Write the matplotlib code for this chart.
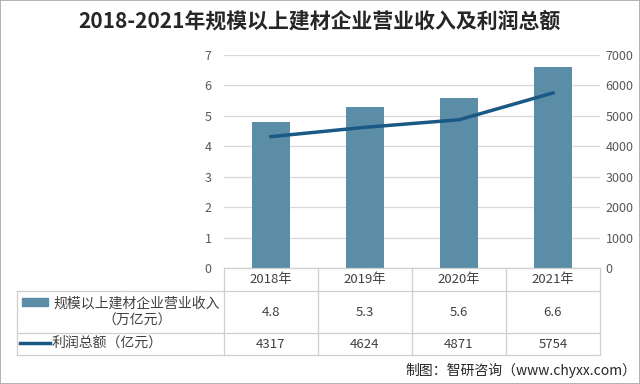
import matplotlib
matplotlib.use('Agg')
import matplotlib.pyplot as plt
import matplotlib.transforms as mtransforms
from matplotlib.lines import Line2D
from matplotlib.patches import Rectangle

plt.rcParams['font.family'] = ['Noto Sans CJK SC', 'DejaVu Sans']

# 数据
years = ['2018年', '2019年', '2020年', '2021年']
revenue = [4.8, 5.3, 5.6, 6.6]          # 万亿元
profit = [4317, 4624, 4871, 5754]       # 亿元
revenue_label = '规模以上建材企业营业收入\n（万亿元）'
profit_label = '利润总额（亿元）'
title = '2018-2021年规模以上建材企业营业收入及利润总额'
source = '制图：智研咨询（www.chyxx.com）'

bar_color = '#5B8DA7'
line_color = '#1A5886'
grid_color = '#D9D9D9'
text_color = '#404040'
tick_color = '#595959'

W, H = 640, 384
fig = plt.figure(figsize=(W / 100, H / 100), dpi=100)


def fy(y):
    # pixel (desde arriba) -> fracción de figura
    return 1 - y / H


def fx(x):
    return x / W


ax = fig.add_axes([fx(224), fy(268), fx(600) - fx(224), fy(55) - fy(268)])
x = range(len(years))
ax.bar(x, revenue, width=0.4, color=bar_color, zorder=3)
ax.set_xlim(-0.5, len(years) - 0.5)
ax.set_ylim(0, 7)
ax.set_yticks(range(0, 8))
ax.set_xticks([])
ax.yaxis.grid(True, color=grid_color, linewidth=0.9)
ax.set_axisbelow(True)
for s in ax.spines.values():
    s.set_visible(False)
ax.tick_params(axis='y', length=0, pad=9, labelsize=9, labelcolor=tick_color)

ax2 = ax.twinx()
ax2.plot(x, profit, color=line_color, linewidth=2.5, zorder=4)
ax2.set_ylim(0, 7000)
ax2.set_yticks(range(0, 7001, 1000))
for s in ax2.spines.values():
    s.set_visible(False)
ax2.tick_params(axis='y', length=0, pad=4, labelsize=9, labelcolor=tick_color)

# título
fig.text(fx(319), fy(21), title, ha='center', va='center', fontsize=15,
         fontweight='bold', color='#262626')

# tabla de datos
lc = '#CFCFCF'
bt = mtransforms.blended_transform_factory(ax.transData, fig.transFigure)
y_rows = [268, 291, 333, 355]
for i, yy in enumerate(y_rows):
    x0 = 224 if i == 0 else 17
    fig.add_artist(Line2D([fx(x0), fx(600)], [fy(yy), fy(yy)], color=lc, linewidth=0.9))
fig.add_artist(Line2D([fx(17), fx(17)], [fy(291), fy(355)], color=lc, linewidth=0.9))
for k in range(len(years) + 1):
    xk = k - 0.5
    fig.add_artist(Line2D([xk, xk], [fy(268), fy(355)], color=lc, linewidth=0.9,
                          transform=bt))

for i, yr in enumerate(years):
    fig.text(i, fy(280), yr, transform=bt, ha='center', va='center', fontsize=9.5,
             color=text_color)
    fig.text(i, fy(312), f'{revenue[i]:.1f}', transform=bt, ha='center', va='center',
             fontsize=9.5, color=text_color)
    fig.text(i, fy(344), f'{profit[i]}', transform=bt, ha='center', va='center',
             fontsize=9.5, color=text_color)

# leyenda dentro de la tabla
fig.add_artist(Rectangle((fx(22), fy(306)), fx(48) - fx(22), fy(298) - fy(306),
                         color=bar_color, transform=fig.transFigure))
fig.text(fx(137), fy(312), revenue_label, ha='center', va='center', fontsize=10,
         color=text_color, linespacing=1.3)
fig.add_artist(Line2D([fx(20), fx(50)], [fy(343), fy(343)], color=line_color,
                      linewidth=2.5))
fig.text(fx(52), fy(343), profit_label, ha='left', va='center', fontsize=10,
         color=text_color)

# fuente
fig.text(fx(636), fy(370), source, ha='right', va='center', fontsize=10,
         color='#262626')

# marco
fig.add_artist(Rectangle((0, 0), 1, 1, fill=False, edgecolor='#A6A6A6',
                         linewidth=1.2, transform=fig.transFigure))

fig.savefig('out.png', dpi=100)
